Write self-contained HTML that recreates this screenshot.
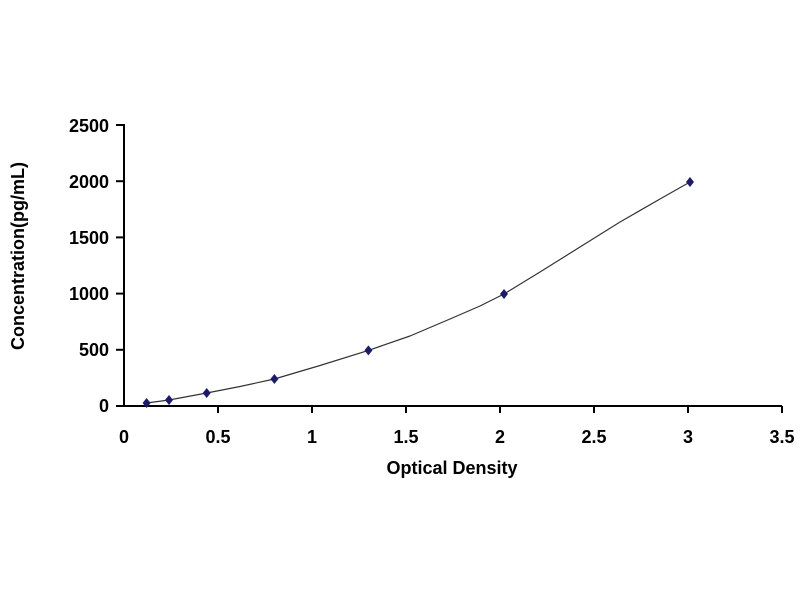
<!DOCTYPE html>
<html><head><style>body{margin:0;background:#fff}</style></head><body>
<svg width="800" height="600" xmlns="http://www.w3.org/2000/svg" font-family="Liberation Sans, Arial, sans-serif" font-weight="bold">
<rect width="800" height="600" fill="#fff"/>
<g stroke="#000" stroke-width="2" fill="none">
<line x1="124" y1="124" x2="124" y2="407"/>
<line x1="123" y1="406" x2="782" y2="406"/>
<line x1="116" y1="125" x2="124" y2="125"/>
<line x1="116" y1="181.2" x2="124" y2="181.2"/>
<line x1="116" y1="237.4" x2="124" y2="237.4"/>
<line x1="116" y1="293.6" x2="124" y2="293.6"/>
<line x1="116" y1="349.8" x2="124" y2="349.8"/>
<line x1="116" y1="406" x2="124" y2="406"/>
<line x1="218" y1="406" x2="218" y2="413"/>
<line x1="312" y1="406" x2="312" y2="413"/>
<line x1="406" y1="406" x2="406" y2="413"/>
<line x1="500" y1="406" x2="500" y2="413"/>
<line x1="594" y1="406" x2="594" y2="413"/>
<line x1="688" y1="406" x2="688" y2="413"/>
<line x1="782" y1="406" x2="782" y2="413"/>
</g>
<g font-size="18" text-anchor="end" fill="#000">
<text x="109" y="132">2500</text>
<text x="109" y="188">2000</text>
<text x="109" y="244">1500</text>
<text x="109" y="300">1000</text>
<text x="109" y="356">500</text>
<text x="109" y="412">0</text>
</g>
<g font-size="18" text-anchor="middle" fill="#000">
<text x="124" y="443">0</text>
<text x="218" y="443">0.5</text>
<text x="312" y="443">1</text>
<text x="406" y="443">1.5</text>
<text x="500" y="443">2</text>
<text x="594" y="443">2.5</text>
<text x="688" y="443">3</text>
<text x="782" y="443">3.5</text>
</g>
<text x="452" y="474" font-size="18" text-anchor="middle">Optical Density</text>
<text transform="translate(24,256) rotate(-90)" font-size="18" text-anchor="middle">Concentration(pg/mL)</text>
<polyline points="146.6,403 169,400 206.7,393 240,386.5 274.4,379 320,365.5 368.4,350.4 410,336 450,319 480,306 504,294 540,272 580,247 620,222 660,199 690,182" stroke="#333" stroke-width="1.2" fill="none" stroke-linejoin="round"/>
<g fill="#1a1a6e">
<path d="M146.6,398 l4,5 -4,5 -4,-5z"/>
<path d="M169,395 l4,5 -4,5 -4,-5z"/>
<path d="M206.7,388 l4,5 -4,5 -4,-5z"/>
<path d="M274.4,374 l4,5 -4,5 -4,-5z"/>
<path d="M368.4,345.4 l4,5 -4,5 -4,-5z"/>
<path d="M504,289 l4,5 -4,5 -4,-5z"/>
<path d="M690,177 l4,5 -4,5 -4,-5z"/>
</g>
</svg>
</body></html>
